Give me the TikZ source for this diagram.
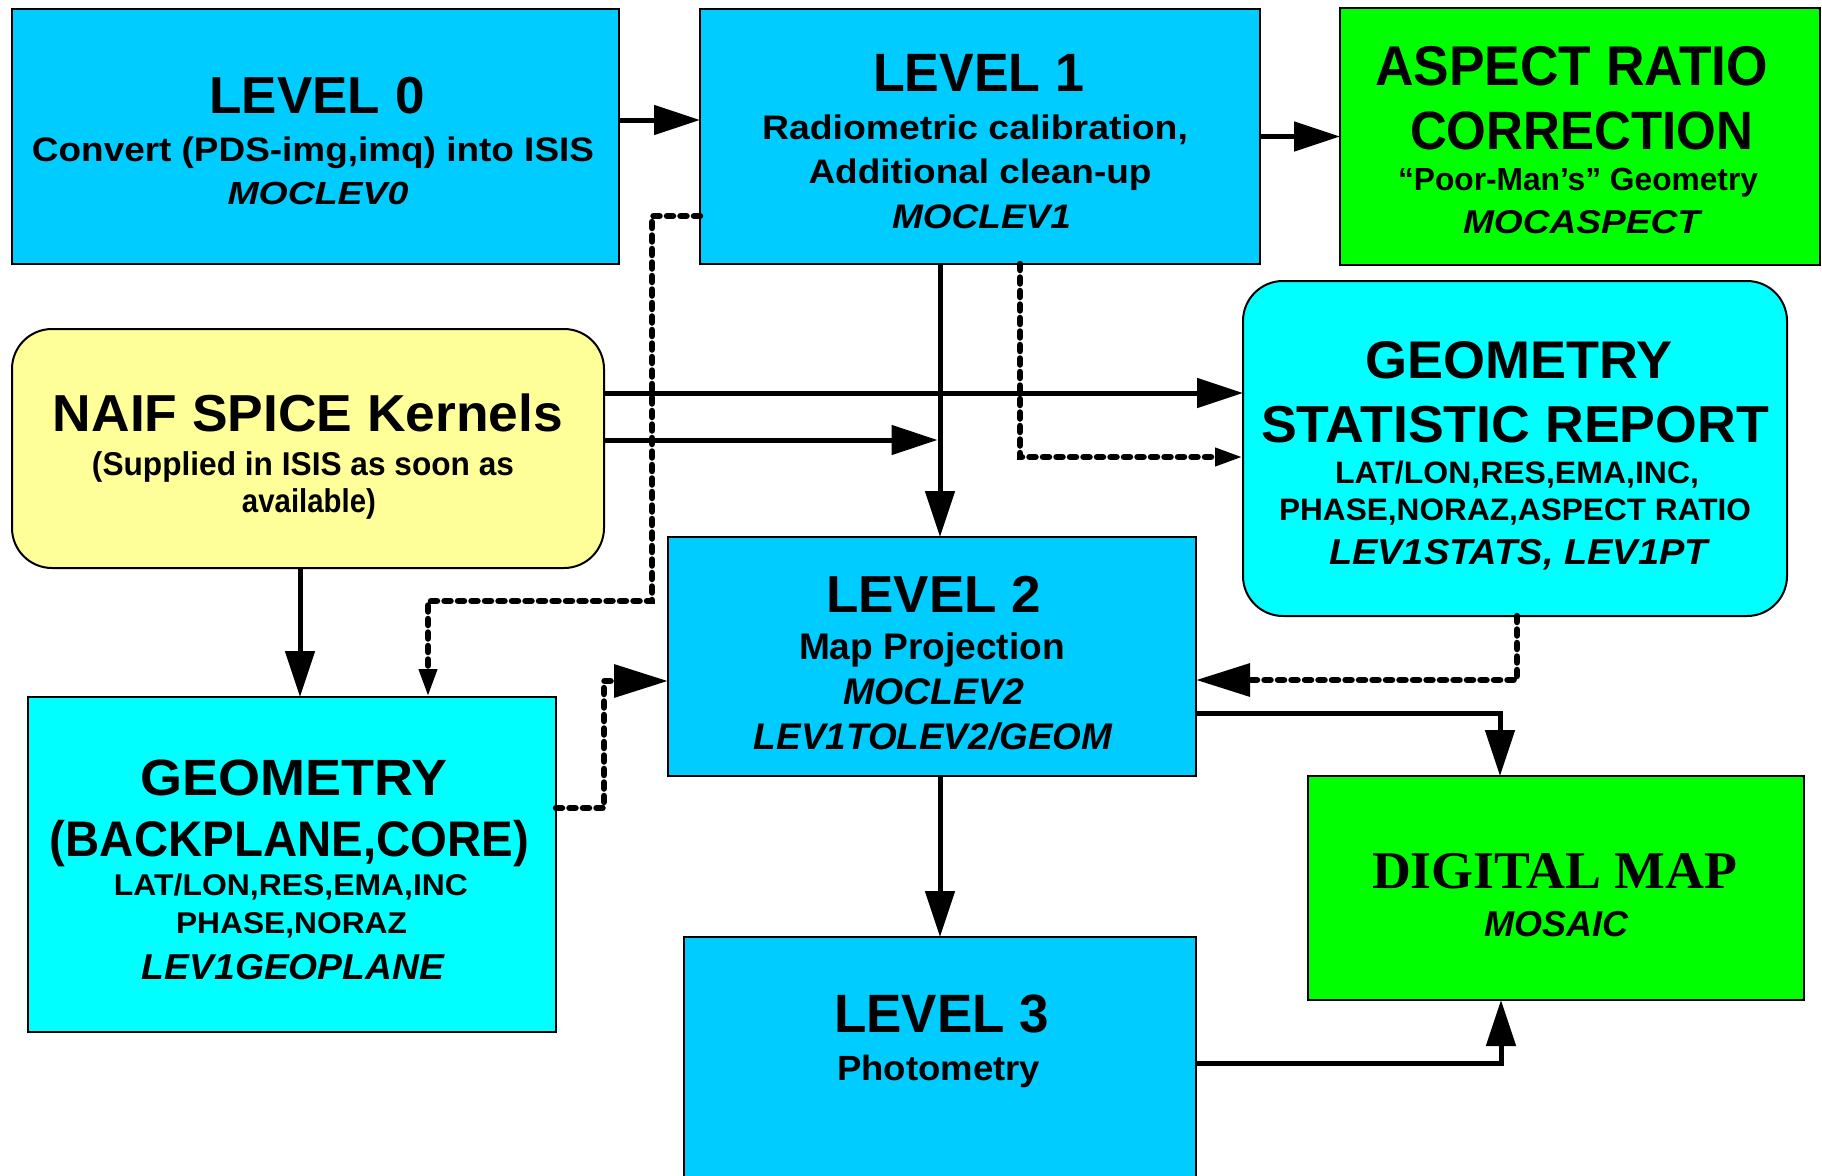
\documentclass[tikz,border=0pt]{standalone}
\usepackage{fontspec}
\usepackage{graphicx}
\setmainfont{Liberation Sans}
\newfontfamily\timesf{Liberation Serif}
\usetikzlibrary{arrows.meta}
\definecolor{lvl}{HTML}{00CCFF}
\definecolor{grn}{HTML}{00FF00}
\definecolor{ylw}{HTML}{FFFF99}
\definecolor{cyn}{HTML}{00FFFF}
\newcommand{\tx}[3]{\fontsize{#1pt}{#1pt}\selectfont\resizebox{#2pt}{\height}{#3}}
\tikzset{
  box/.style={draw=black, line width=2pt, inner sep=0pt, outer sep=0pt},
  rbox/.style={box, rounded corners=40pt},
  lbl/.style={inner sep=0pt, outer sep=0pt, anchor=base},
  conn/.style={line width=5pt, -{Triangle[length=46pt,width=29pt]}},
  dconn/.style={line width=6.5pt, line cap=round, dash pattern=on 6pt off 7.5pt, -{Triangle[length=54pt,width=32pt]}},
  sdconn/.style={line width=6.5pt, line cap=round, dash pattern=on 6pt off 7.5pt, -{Triangle[length=28pt,width=17pt]}},
}
\begin{document}
\begin{tikzpicture}[x=1pt, y=-1pt, font=\bfseries]
\useasboundingbox (0,0) rectangle (1822,1175);
\fill[white] (0,0) rectangle (1822,1175);
\clip (0,0) rectangle (1822,1175);

% boxes
\node[box, fill=lvl, minimum width=607pt, minimum height=255pt] (L0) at (315.5,136.5) {};
\node[box, fill=lvl, minimum width=560pt, minimum height=255pt] (L1) at (980,136.5) {};
\node[box, fill=grn, minimum width=480pt, minimum height=257pt] (AR) at (1580,136.5) {};
\node[rbox, fill=ylw, minimum width=592pt, minimum height=239pt] (NAIF) at (308,448.5) {};
\node[rbox, fill=cyn, minimum width=544pt, minimum height=335pt] (ST) at (1515,448.5) {};
\node[box, fill=lvl, minimum width=528pt, minimum height=239pt] (L2) at (932,656.5) {};
\node[box, fill=cyn, minimum width=528pt, minimum height=335pt] (GE) at (292,864.5) {};
\node[box, fill=grn, minimum width=496pt, minimum height=224pt] (DM) at (1556,888) {};
\node[box, fill=lvl, minimum width=512pt, minimum height=263pt] (L3) at (940,1068.5) {};

% texts
\node[lbl] (l0a) at (317,113) {\tx{52}{215}{LEVEL 0}};
\node[lbl] (l0b) at (313,161) {\tx{34}{562}{Convert (PDS-img,imq) into ISIS}};
\node[lbl] (l0c) at (318,204) {\tx{32}{181}{\itshape MOCLEV0}};

\node[lbl] (l1a) at (978.5,91) {\tx{54}{211}{LEVEL 1}};
\node[lbl] (l1b) at (975,139) {\tx{34}{426}{Radiometric calibration,}};
\node[lbl] (l1c) at (980,183.5) {\tx{34}{343}{Additional clean-up}};
\node[lbl] (l1d) at (981.5,228) {\tx{34}{179}{\itshape MOCLEV1}};

\node[lbl] (ara) at (1571.5,85) {\tx{56}{393}{ASPECT RATIO}};
\node[lbl] (arb) at (1581.5,149) {\tx{54}{343}{CORRECTION}};
\node[lbl] (arc) at (1578,190) {\tx{32}{360}{“Poor-Man’s” Geometry}};
\node[lbl] (ard) at (1581.5,233) {\tx{33}{237}{\itshape MOCASPECT}};

\node[lbl] (na) at (308,431) {\tx{52}{510}{NAIF SPICE Kernels}};
\node[lbl] (nb) at (303,475) {\tx{33}{422}{(Supplied in ISIS as soon as}};
\node[lbl] (nc) at (309,512.5) {\tx{33}{134}{available)}};

\node[lbl] (sta) at (1518.5,378) {\tx{53}{307}{GEOMETRY}};
\node[lbl] (stb) at (1515,442) {\tx{52}{508}{STATISTIC REPORT}};
\node[lbl] (stc) at (1517,483.5) {\tx{31}{364}{LAT/LON,RES,EMA,INC,}};
\node[lbl] (std) at (1515,520) {\tx{31}{472}{PHASE,NORAZ,ASPECT RATIO}};
\node[lbl] (ste) at (1518.5,564.5) {\tx{36}{379}{\itshape LEV1STATS, LEV1PT}};

\node[lbl] (gea) at (294,795) {\tx{51}{307}{GEOMETRY}};
\node[lbl] (geb) at (289.5,856) {\tx{50}{479}{(BACKPLANE,CORE)}};
\node[lbl] (gec) at (291,895) {\tx{30}{354}{LAT/LON,RES,EMA,INC}};
\node[lbl] (ged) at (291.5,933.5) {\tx{30}{231}{PHASE,NORAZ}};
\node[lbl] (gee) at (293,979.5) {\tx{36}{302}{\itshape LEV1GEOPLANE}};

\node[lbl] (l2a) at (933.5,612) {\tx{52}{215}{LEVEL 2}};
\node[lbl] (l2b) at (932,659) {\tx{37}{266}{Map Projection}};
\node[lbl] (l2c) at (933.5,704.5) {\tx{37}{181}{\itshape MOCLEV2}};
\node[lbl] (l2d) at (933,749.5) {\tx{37}{358}{\itshape LEV1TOLEV2/GEOM}};

\node[lbl] (l3a) at (941.5,1032) {\tx{54}{215}{LEVEL 3}};
\node[lbl] (l3b) at (938.5,1080) {\tx{35}{203}{Photometry}};

\node[lbl] (dma) at (1554.5,888) {\timesf\tx{53}{365}{DIGITAL MAP}};
\node[lbl] (dmb) at (1556,936) {\tx{36}{144}{\itshape MOSAIC}};

% connectors
\coordinate (j) at (937.5,440);
\coordinate (d1) at (652,601);
\coordinate (d2) at (604,681);

\draw[conn] ([yshift=16.5pt]L0.east) -- ([yshift=16.5pt]L1.west);
\draw[conn] (L1.east) -- (AR.west);
\draw[conn] ([xshift=-40pt]L1.south) -- ([xshift=-40pt]L1.south |- L2.north);
\draw[conn] ([yshift=55.5pt]NAIF.east) -- ([yshift=55.5pt]NAIF.east -| ST.west);
\draw[conn] ([yshift=8.5pt]NAIF.east) -- (j);
\draw[conn] ([xshift=-8pt]NAIF.south) -- ([xshift=-8pt]NAIF.south |- GE.north);
\draw[conn] ([xshift=8pt]L2.south) -- (L3.north);
\draw[conn] ([yshift=-56.5pt]L2.east) -| ([xshift=-56pt]DM.north);
\draw[conn] ([yshift=5.5pt]L3.east) -| ([xshift=-55pt]DM.south);

\draw[sdconn] ([yshift=-79.5pt]L1.west) -| (d1) -| ([xshift=136pt]GE.north);
\draw[sdconn] ([xshift=40pt]L1.south) |- ([yshift=-8.5pt]ST.west);
\draw[dconn] ([yshift=56.5pt]GE.east) -| (d2) -- (d2 -| L2.west);
\draw[dconn] ([xshift=2pt]ST.south) |- ([yshift=-23.5pt]L2.east);
\end{tikzpicture}
\end{document}
